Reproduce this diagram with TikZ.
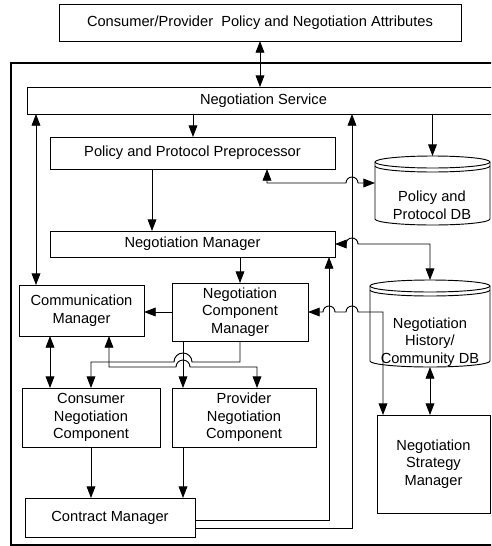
\documentclass[tikz,border=0pt]{standalone}
\usepackage{fontspec}
\setmainfont{Liberation Sans}
\usepackage{tikz}
\usetikzlibrary{arrows.meta,calc}
\tikzset{
    block/.style={draw, line width=0.8pt, align=center, inner sep=2pt, outer sep=0pt,
    font=\fontsize{12.5}{15}\selectfont},
    store/.style={inner sep=0pt, outer sep=0pt},
    storelabel/.style={align=center, inner sep=0pt, font=\fontsize{12.5}{15}\selectfont},
    wire/.style={line width=0.8pt, >={Triangle[length=10pt, width=7.5pt]}},
    frame/.style={line width=2pt},
}

\begin{document}
\begin{tikzpicture}[x=0.03cm, y=-0.03cm]
            \useasboundingbox (0,0) rectangle (491,546);
            \clip (0,0) rectangle (491,546);
            % --- outer frame ---
            \draw[frame] (495,63) -| (11,545) -- (495,545);
            % --- blocks ---
            \node[block, minimum width=12.06cm, minimum height=1.11cm] (attr) at (260,22.5) {Consumer/Provider\ \ Policy and Negotiation Attributes};
            \node[block, minimum width=14.19cm, minimum height=0.81cm] (ns) at (263.5,100.5) {Negotiation Service};
            \node[block, minimum width=8.55cm, minimum height=0.96cm] (ppp) at (192.5,153) {Policy and Protocol Preprocessor};
            \node[block, minimum width=8.55cm, minimum height=0.78cm] (nm) at (192.5,244) {Negotiation Manager};
            \node[block, minimum width=3.75cm, minimum height=1.53cm] (cm) at (81.5,310.5) {Communication\\Manager};
            \node[block, minimum width=4.08cm, minimum height=1.74cm] (ncm) at (240,312) {Negotiation\\Component\\Manager};
            \node[block, minimum width=4.14cm, minimum height=1.77cm] (cnc) at (91,417.5) {Consumer\\Negotiation\\Component};
            \node[block, minimum width=4.32cm, minimum height=1.77cm] (pnc) at (244,417.5) {Provider\\Negotiation\\Component};
            \node[block, minimum width=5.1cm, minimum height=1.17cm] (ctm) at (110,517.5) {Contract Manager};
            \node[block, minimum width=3.39cm, minimum height=2.94cm] (nsm) at (433.5,464) {Negotiation\\Strategy\\Manager};
            % --- databases ---
            \node[store, minimum width=3.45cm, minimum height=1.71cm] (ppdb) at (432.5,190.5) {};
            \draw[wire] (ppdb.north west) -- (ppdb.south west) arc[start angle=180, end angle=360, x radius=1.725cm, y radius=0.18cm] -- (ppdb.north east);
            \draw[wire] (ppdb.north) ellipse[x radius=1.725cm, y radius=0.18cm];
            \draw[wire] ([yshift=-0.12cm]ppdb.north west) arc[start angle=180, end angle=360, x radius=1.725cm, y radius=0.18cm];
            \node[storelabel] (ppdbtext) at (432,205) {Policy and\\Protocol DB};
            \node[store, minimum width=3.6cm, minimum height=2.25cm] (hdb) at (430,323.5) {};
            \draw[wire] (hdb.north west) -- (hdb.south west) arc[start angle=180, end angle=360, x radius=1.8cm, y radius=0.18cm] -- (hdb.north east);
            \draw[wire] (hdb.north) ellipse[x radius=1.8cm, y radius=0.18cm];
            \draw[wire] ([yshift=-0.12cm]hdb.north west) arc[start angle=180, end angle=360, x radius=1.8cm, y radius=0.18cm];
            \node[storelabel] (hdbtext) at (430,342) {Negotiation\\History/\\Community DB};
            % --- columns and rows of the connectors ---
            \coordinate (xL) at (36,0);
            \coordinate (xC) at (50,0);
            \coordinate (xM) at (109,0);
            \coordinate (xQ) at (152,0);
            \coordinate (xR) at (183,0);
            \coordinate (xP) at (193,0);
            \coordinate (xT) at (257,0);
            \coordinate (xD) at (267,0);
            \coordinate (xA) at (329,0);
            \coordinate (xB) at (352,0);
            \coordinate (xS) at (383,0);
            \coordinate (yD) at (0,183);
            \coordinate (y1) at (0,362);
            \coordinate (y2) at (0,367);
            \coordinate (yC1) at (0,520);
            \coordinate (yC2) at (0,528);
            % --- buses back from the contract manager ---
            \draw[wire, ->] (ctm.east |- yC1) -| (nm.south -| xA);
            \draw[wire, ->] (ctm.east |- yC2) -| (ns.south -| xB);
            % --- connectors ---
            \draw[wire, <->] (attr.south) -- (attr.south |- ns.north);
            \draw[wire, <->] (ns.south -| xL) -- (cm.north -| xL);
            \draw[wire, ->] (ns.south -| xP) -- (ppp.north -| xP);
            \draw[wire, ->] (ns.south -| ppdb.north) -- ([yshift=0.18cm]ppdb.north);
            \draw[wire, <->] (ppp.south -| xD) |- ($(xB |- yD)-(6,0)$) arc[start angle=180, end angle=0, radius=0.18cm] -- (ppdb.west |- yD);
            \draw[wire, ->] (ppp.south -| xQ) -- (nm.north -| xQ);
            \draw[wire, ->] (nm.south -| ncm.north) -- (ncm.north);
            \draw[wire, <->] (nm.east) -- ($(xB |- nm.east)-(6,0)$) arc[start angle=180, end angle=0, radius=0.18cm] -| ([yshift=0.18cm]hdb.north);
            \draw[wire, <->] (ncm.east) -- ($(xA |- ncm.east)-(6,0)$) arc[start angle=180, end angle=0, radius=0.18cm]
                -- ($(xB |- ncm.east)-(6,0)$) arc[start angle=180, end angle=0, radius=0.18cm] -| (nsm.north -| xS);
            \draw[wire, <->] ([yshift=-0.18cm]hdb.south) -- (hdb.south |- nsm.north);
            \draw[wire, ->] (ncm.west) -- (cm.east |- ncm.west);
            \draw[wire, <->] (cm.south -| xC) -- (cnc.north -| xC);
            \draw[wire, ->] (ncm.south) |- ($(xR |- y1)+(9,0)$) arc[start angle=0, end angle=180, radius=0.27cm] -| (cnc.north);
            \draw[wire, ->] (ncm.south -| xR) -- (pnc.north -| xR);
            \draw[wire, <->] (cm.south -| xM) |- ($(xR |- y2)-(7,0)$) arc[start angle=180, end angle=0, radius=0.21cm] -| (pnc.north -| xT);
            \draw[wire, ->] (cnc.south) -- (cnc.south |- ctm.north);
            \draw[wire, ->] (pnc.south -| xR) -- (ctm.north -| xR);
        \end{tikzpicture}
\end{document}
